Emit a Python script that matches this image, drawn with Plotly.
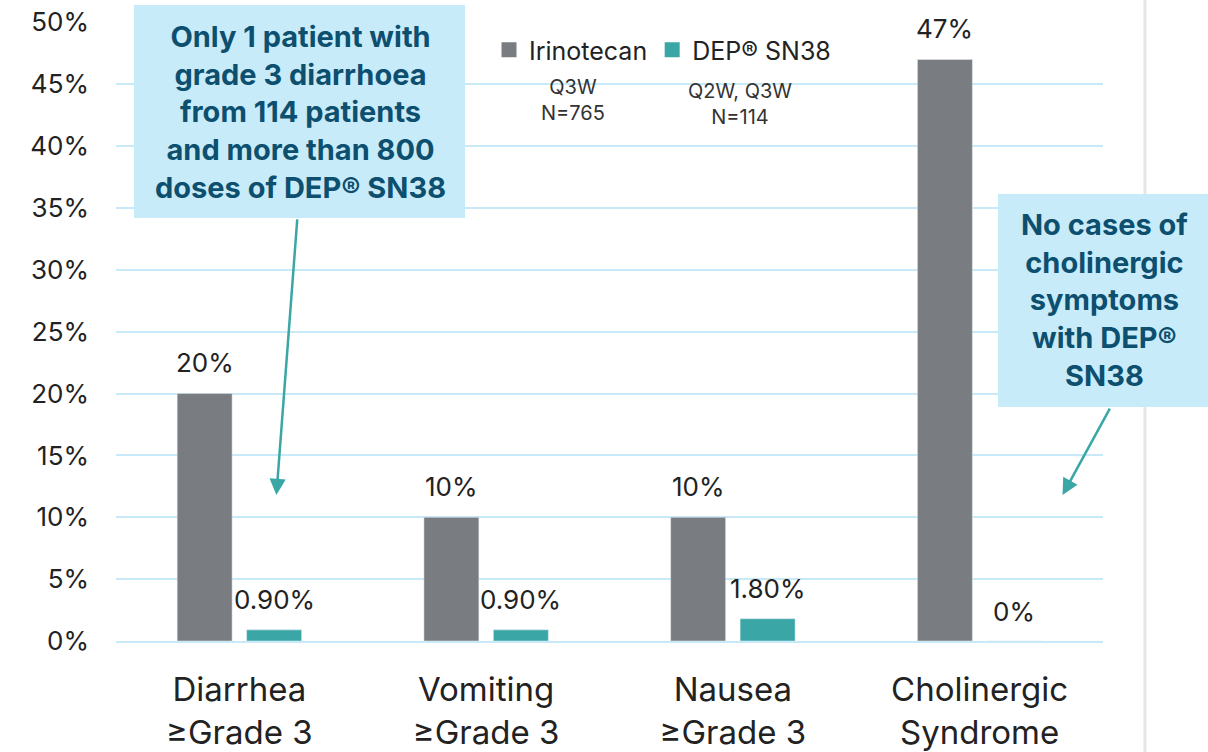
import plotly.graph_objects as go

categories = ["Diarrhea<br>≥Grade 3", "Vomiting<br>≥Grade 3", "Nausea<br>≥Grade 3", "Cholinergic<br>Syndrome"]
irinotecan = [0.20, 0.10, 0.10, 0.47]
dep_sn38 = [0.009, 0.009, 0.018, 0.0]
irinotecan_labels = ["20%", "10%", "10%", "47%"]
dep_labels = ["0.90%", "0.90%", "1.80%", "0%"]
tick_vals = [0, 0.05, 0.10, 0.15, 0.20, 0.25, 0.30, 0.35, 0.40, 0.45, 0.50]
tick_text = ["0%", "5%", "10%", "15%", "20%", "25%", "30%", "35%", "40%", "45%", "50%"]

GRAY = "#797d81"
TEAL = "#3aa6a6"
GRID = "#c8e9f8"
CALLOUT_BG = "#c8ebfa"
CALLOUT_TXT = "#0d4f6e"
FONT = "Inter"

# page -> paper helpers (plot area in page px: x 116..1103, y 22..641)
def px(x):
    return (x - 116) / 987

def py(y):
    return (641 - y) / 619

fig = go.Figure()
fig.add_trace(go.Bar(name="Irinotecan", x=list(range(4)), y=irinotecan, marker_color=GRAY,
                     showlegend=False, hoverinfo="skip"))
fig.add_trace(go.Bar(name="DEP® SN38", x=list(range(4)), y=dep_sn38, marker_color=TEAL,
                     showlegend=False, hoverinfo="skip"))
# legend entries with square swatches
fig.add_trace(go.Scatter(name="Irinotecan", x=[None], y=[None], mode="markers",
                         marker=dict(symbol="square", size=15, color=GRAY)))
fig.add_trace(go.Scatter(name="DEP® SN38", x=[None], y=[None], mode="markers",
                         marker=dict(symbol="square", size=15, color=TEAL)))

ann = []
slot = (1 - 0.437) / 2
for i in range(4):
    ann.append(dict(x=i - slot / 2, y=irinotecan[i], text=irinotecan_labels[i], showarrow=False,
                    xref="x", yref="y", xanchor="center", yanchor="middle", yshift=31,
                    font=dict(size=26, color="#222222", family=FONT)))
    ann.append(dict(x=i + slot / 2, y=dep_sn38[i], text=dep_labels[i], showarrow=False,
                    xref="x", yref="y", xanchor="center", yanchor="middle", yshift=30,
                    font=dict(size=26, color="#222222", family=FONT)))

# legend sub-notes
ann.append(dict(x=px(573), y=py(100), xref="paper", yref="paper", xanchor="center", yanchor="middle",
                text="Q3W<br>N=765", showarrow=False, font=dict(size=20, color="#333333", family=FONT)))
ann.append(dict(x=px(740), y=py(104), xref="paper", yref="paper", xanchor="center", yanchor="middle",
                text="Q2W, Q3W<br>N=114", showarrow=False, font=dict(size=20, color="#333333", family=FONT)))

# callout texts
ann.append(dict(x=px(300), y=py(112), xref="paper", yref="paper", xanchor="center", yanchor="middle",
                text="<b>Only 1 patient with<br>grade 3 diarrhoea<br>from 114 patients<br>and more than 800<br>doses of DEP® SN38</b>",
                showarrow=False, font=dict(size=29, color=CALLOUT_TXT, family=FONT)))
ann.append(dict(x=px(1104), y=py(300), xref="paper", yref="paper", xanchor="center", yanchor="middle",
                text="<b>No cases of<br>cholinergic<br>symptoms<br>with DEP®<br>SN38</b>",
                showarrow=False, font=dict(size=29, color=CALLOUT_TXT, family=FONT)))

# arrows
ann.append(dict(x=0.15, y=0.118, ax=0.235, ay=0.342, xref="x", yref="y", axref="x", ayref="y",
                text="", showarrow=True, arrowhead=2, arrowsize=1.3, arrowwidth=2.5, arrowcolor=TEAL))
ann.append(dict(x=3.336, y=0.118, ax=3.531, ay=0.189, xref="x", yref="y", axref="x", ayref="y",
                text="", showarrow=True, arrowhead=2, arrowsize=1.3, arrowwidth=2.5, arrowcolor=TEAL))

shapes = [
    dict(type="rect", xref="paper", yref="paper", x0=px(134), x1=px(465), y0=py(218), y1=py(5),
         fillcolor=CALLOUT_BG, line=dict(width=0), layer="above"),
    dict(type="rect", xref="paper", yref="paper", x0=px(998), x1=px(1212), y0=py(407), y1=py(194),
         fillcolor=CALLOUT_BG, line=dict(width=0), layer="above"),
    dict(type="line", xref="paper", yref="paper", x0=px(1145), x1=px(1145), y0=-0.2, y1=1.1,
         line=dict(color="#e6e6e6", width=3), layer="below"),
]

fig.update_layout(
    width=1208, height=752,
    margin=dict(l=116, r=105, t=22, b=111),
    paper_bgcolor="white", plot_bgcolor="white",
    barmode="group", bargap=0.437, bargroupgap=0.209,
    font=dict(family=FONT, color="#222222"),
    legend=dict(orientation="h", x=px(489), y=py(50), xanchor="left", yanchor="middle",
                font=dict(size=25, color="#222222", family=FONT), bgcolor="rgba(0,0,0,0)",
                traceorder="normal"),
    annotations=ann,
    shapes=shapes,
    hovermode=False,
)
fig.update_yaxes(range=[0, 0.5003], tickvals=tick_vals, ticktext=tick_text, showgrid=True,
                 gridcolor=GRID, gridwidth=2, zeroline=False, showline=False, automargin=False,
                 ticklabeloverflow="allow",
                 tickfont=dict(size=26, color="#222222", family=FONT), ticklabelstandoff=26)
fig.update_xaxes(range=[-0.5, 3.5], tickvals=list(range(4)), ticktext=categories, showgrid=False,
                 zeroline=False, showline=True, linecolor=GRID, linewidth=2, automargin=False,
                 ticklabeloverflow="allow",
                 tickfont=dict(size=33, color="#222222", family=FONT), ticklabelstandoff=18)

fig.write_html("out.html", config={"displayModeBar": False},
               post_script="document.body.style.margin='0';document.body.style.overflow='hidden';")
